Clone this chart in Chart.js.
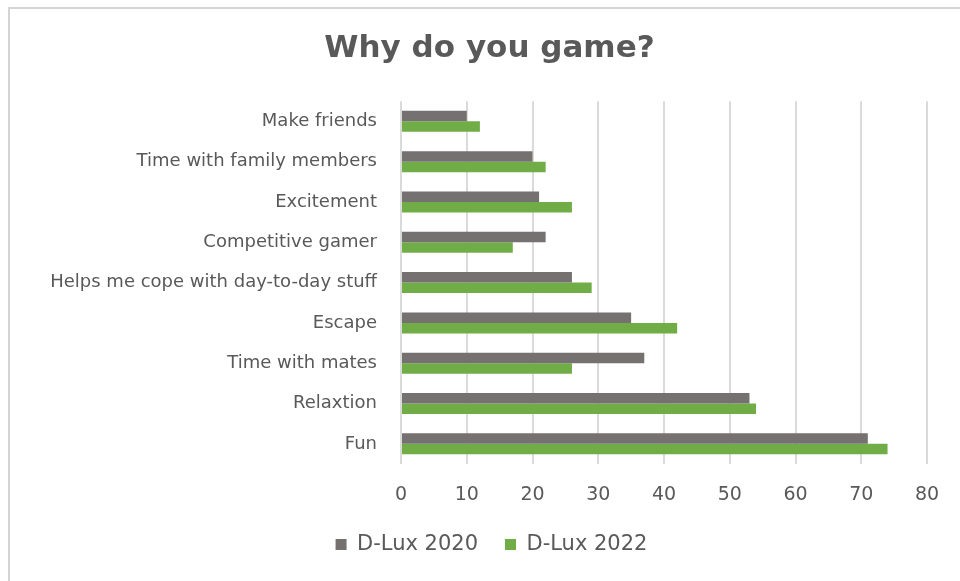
<!DOCTYPE html>
<html>
<head>
<meta charset="utf-8">
<script src="https://cdn.jsdelivr.net/npm/chart.js@4/dist/chart.umd.min.js"></script>
<style>
  html, body { margin: 0; padding: 0; background: #fff; }
  #wrap { position: relative; width: 960px; height: 581px; overflow: hidden; }
  #frame { position: absolute; left: 8px; top: 7px; width: 1000px; height: 700px;
           border-left: 2px solid #d4d4d4; border-top: 2px solid #d4d4d4; }
  canvas { position: absolute; left: 0; top: 0; }
</style>
</head>
<body>
<div id="wrap">
  <div id="frame"></div>
  <canvas id="gameChart" width="960" height="581"></canvas>
</div>
<script>
const reasons = [
  'Make friends',
  'Time with family members',
  'Excitement',
  'Competitive gamer',
  'Helps me cope with day-to-day stuff',
  'Escape',
  'Time with mates',
  'Relaxtion',
  'Fun',
];
const dlux2020 = [10, 20, 21, 22, 26, 35, 37, 53, 71];
const dlux2022 = [12, 22, 26, 17, 29, 42, 26, 54, 74];
const xTicks = [0, 10, 20, 30, 40, 50, 60, 70, 80];

const textGrey = '#595959';

// title and legend sit centred over the whole frame, not just the padded box,
// so nudge both a little to the right
const centreShift = {
  id: 'centreShift',
  afterLayout(chart) {
    const t = chart.titleBlock;
    t.left += 16;
    t.right += 16;
    const l = chart.legend;
    l.left += 18;
    l.right += 18;
  },
};

const ctx = document.getElementById('gameChart').getContext('2d');
new Chart(ctx, {
  type: 'bar',
  data: {
    labels: reasons,
    datasets: [
      {
        label: 'D-Lux 2020',
        data: dlux2020,
        backgroundColor: '#767171',
        borderWidth: 0,
        categoryPercentage: 0.52,
        barPercentage: 1.0,
      },
      {
        label: 'D-Lux 2022',
        data: dlux2022,
        backgroundColor: '#70ad47',
        borderWidth: 0,
        categoryPercentage: 0.52,
        barPercentage: 1.0,
      },
    ],
  },
  options: {
    indexAxis: 'y',
    responsive: false,
    animation: false,
    layout: { padding: { left: 20, right: 33, top: 0, bottom: 16 } },
    plugins: {
      title: {
        display: true,
        text: 'Why do you game?',
        color: textGrey,
        font: { family: 'DejaVu Sans', size: 31, weight: 'bold' },
        padding: { top: 30, bottom: 34 },
      },
      legend: {
        position: 'bottom',
        labels: {
          color: textGrey,
          font: { family: 'DejaVu Sans', size: 21 },
          boxWidth: 11,
          boxHeight: 11,
          padding: 27,
        },
      },
      tooltip: { enabled: false },
    },
    scales: {
      x: {
        min: 0,
        max: 80,
        afterBuildTicks: (scale) => {
          scale.ticks = xTicks.map((v) => ({ value: v }));
        },
        // only keep room for the labels plus the gap above them
        afterFit: (scale) => { scale.height = 43; },
        grid: { color: '#dadada', lineWidth: 2, drawTicks: false },
        border: { display: false },
        ticks: {
          color: textGrey,
          font: { family: 'DejaVu Sans', size: 19 },
          padding: 20,
        },
      },
      y: {
        grid: { display: false },
        border: { display: false },
        afterFit: (scale) => { scale.width = 381; },
        ticks: {
          color: textGrey,
          font: { family: 'DejaVu Sans', size: 18 },
          padding: 16,
          autoSkip: false,
        },
      },
    },
  },
  plugins: [centreShift],
});
</script>
</body>
</html>
